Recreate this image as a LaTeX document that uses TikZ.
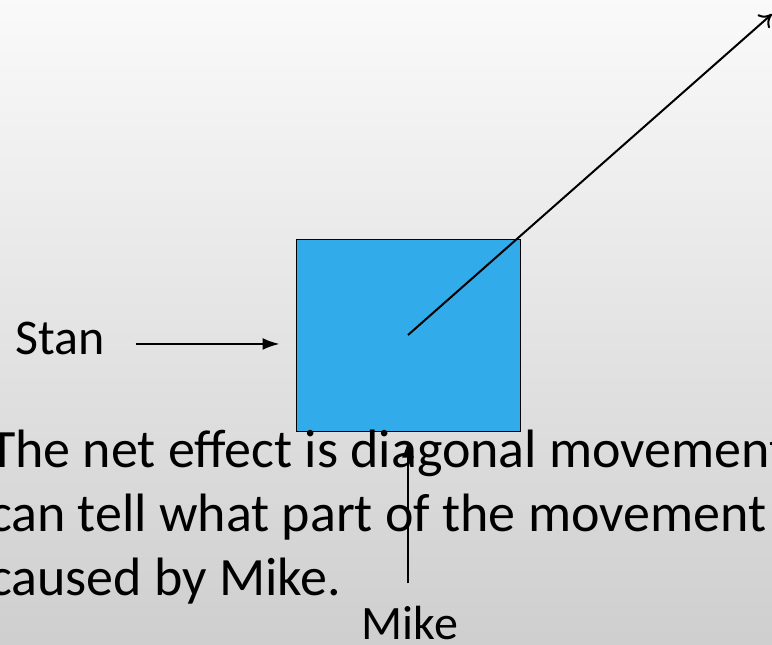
\documentclass[tikz,border=0pt]{standalone}
\usepackage{fontspec}
\setmainfont{Carlito}
\usetikzlibrary{arrows.meta,positioning}
\definecolor{boxblue}{RGB}{49,171,234}
\tikzset{
  label text/.style={font=\fontsize{50}{60}\selectfont,inner sep=0pt},
  push/.style={-{Latex[length=17pt,width=12pt]},line width=2pt},
}

\begin{document}
\begin{tikzpicture}[x=1pt,y=-1pt]
\useasboundingbox (0,0) rectangle (772,645);
\clip (0,0) rectangle (772,645);
% background
\shade[top color=gray!4,bottom color=gray!38] (0,0) rectangle (772,645);
% the block
\node[draw=black,line width=1pt,fill=boxblue,minimum width=224pt,minimum height=192pt,inner sep=0pt] (box) at (408,335) {};
\coordinate (tip) at (772,14);
% text below the block
\node[anchor=base west,align=left,inner sep=0pt,font=\fontsize{54}{64}\selectfont] (caption) at (-11,595)
  {The net effect is diagonal movement\\can tell what part of the movement i\\caused by Mike.};
% pushers
\node[label text,anchor=base west] (stan) at (15,354) {Stan};
\node[label text,anchor=base,font=\fontsize{48}{58}\selectfont] (mike) at (410,639) {Mike};
% arrows
\draw[push] (stan.east) ++(31,6) coordinate (stan end) -- ([xshift=-16pt]box.west |- stan end);
\draw[push] ([yshift=22pt]mike.north -| box.center) -- ([yshift=-9pt]box.south);
\draw[-{To[length=12pt,width=18pt]},line width=2pt] (box.center) -- (tip);
\end{tikzpicture}
\end{document}
